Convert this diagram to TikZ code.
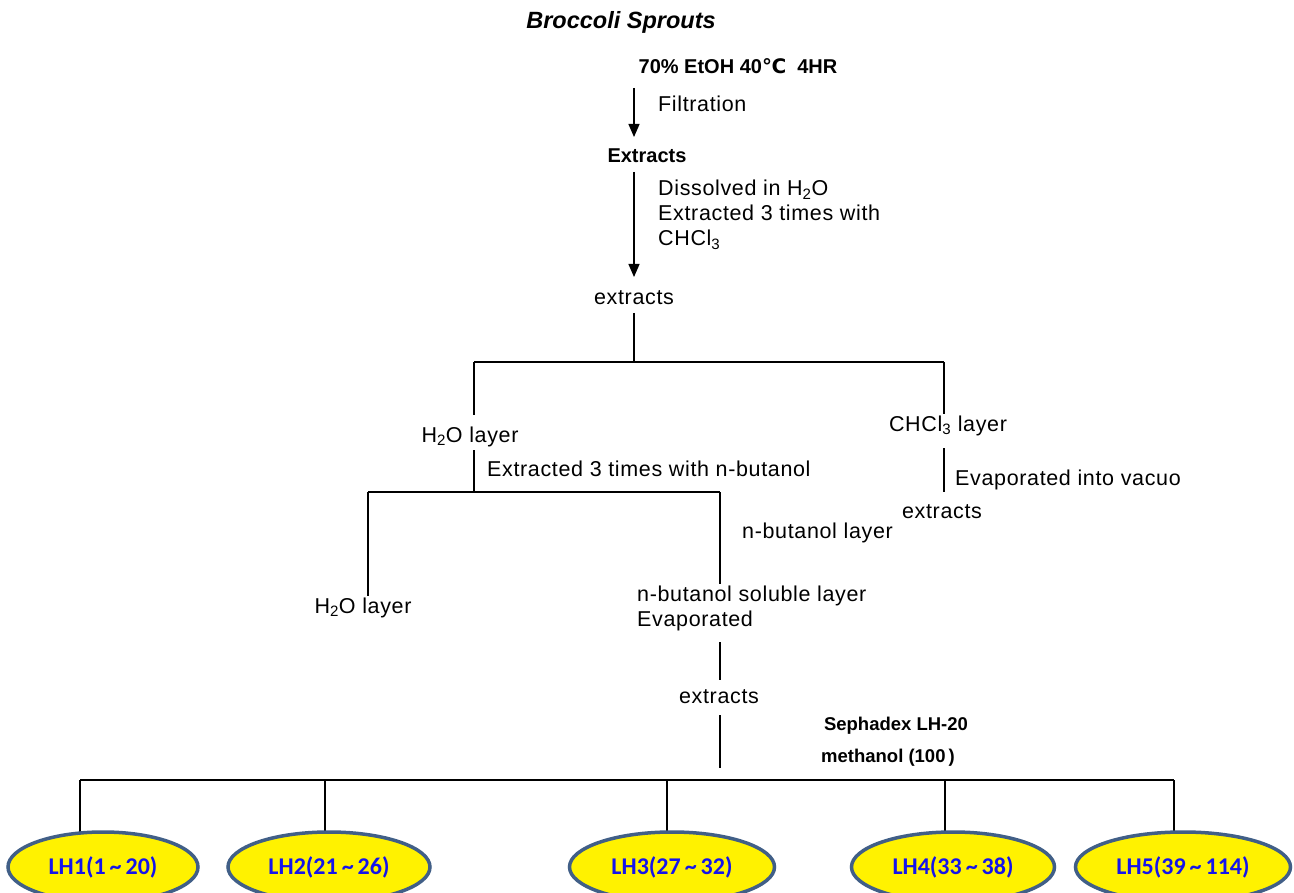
\documentclass[tikz,border=0pt]{standalone}
\usepackage{fontspec}
\setmainfont{Liberation Sans}
\newfontfamily\spaced[LetterSpace=3]{Liberation Sans}
\newfontfamily\dejavu{DejaVu Sans}
\newfontfamily\carl{Carlito}
\usetikzlibrary{arrows.meta,shapes.geometric}
\definecolor{ellborder}{RGB}{65,95,135}
\definecolor{elltext}{RGB}{20,20,235}
\tikzset{
  txt/.style={inner sep=2pt, font=\spaced\fontsize{21.5}{25}\selectfont},
  ltxt/.style={txt, anchor=west, align=left},
  btxt/.style={inner sep=2pt, font=\fontsize{20}{24}\selectfont\bfseries},
  conn/.style={line width=1.3pt, black},
  arr/.style={conn, -{Triangle[length=13pt,width=11pt]}},
  frac/.style={ellipse, draw=ellborder, line width=3.5pt, fill=yellow, minimum height=70pt, inner sep=0pt,
    font=\fontsize{24}{28}\selectfont\carl\bfseries, text=elltext}
}
\begin{document}
\begin{tikzpicture}[x=1pt,y=-1pt]
\useasboundingbox (0,0) rectangle (1294,893);
% top
\node[inner sep=2pt, font=\fontsize{23.5}{27}\selectfont\bfseries\itshape] (bs) at (621,22) {Broccoli Sprouts};
\node[btxt] (etoh) at (738,66) {70\% EtOH 40{\dejavu ℃}\ \ 4HR};
\coordinate (a1s) at (634,88);
\coordinate (a1e) at (634,137);
\draw[arr] (a1s) -- (a1e);
\node[ltxt] (filt) at (656,104) {Filtration};
\node[btxt] (ex1) at (647,156) {Extracts};
\coordinate (a2s) at (634,172);
\coordinate (a2e) at (634,277);
\draw[arr] (a2s) -- (a2e);
\node[ltxt, anchor=north west] (diss) at (656,178) {Dissolved in H\textsubscript{2}O\\Extracted 3 times with\\CHCl\textsubscript{3}};
\node[txt] (ex2) at (634,298) {extracts};
% first split
\coordinate (j0) at (634,313);
\coordinate (j1) at (634,362);
\coordinate (jL) at (474,362);
\coordinate (jR) at (944,362);
\draw[conn] (j0) -- (j1);
\draw[conn] (jL) -- (jR);
\node[txt] (h2o1) at (470,437) {H\textsubscript{2}O layer};
\node[txt] (chcl) at (948,426) {CHCl\textsubscript{3} layer};
\draw[conn] (jL) -- (jL |- 0,415);
\draw[conn] (jR) -- (chcl.north -| jR);
% H2O branch
\coordinate (j2) at (474,492);
\coordinate (j2L) at (368,492);
\coordinate (j2R) at (720,492);
\draw[conn] (474,450) -- (j2);
\node[ltxt] (extb) at (485,469) {Extracted 3 times with n-butanol};
\draw[conn] (j2L) -- (j2R);
\node[txt] (h2o2) at (363,608) {H\textsubscript{2}O layer};
\node[ltxt] (nbl) at (740,533) {n-butanol layer};
\node[ltxt, anchor=north west] (nbs) at (635,584) {n-butanol soluble layer\\Evaporated};
\draw[conn] (j2L) -- (j2L |- h2o2.north);
\draw[conn] (j2R) -- (j2R |- nbs.north);
% CHCl3 branch
\coordinate (c1) at (944,448);
\coordinate (c2) at (944,492);
\draw[conn] (c1) -- (c2);
\node[ltxt] (evap) at (953,480) {Evaporated into vacuo};
\node[txt] (ex3) at (942,512) {extracts};
% n-butanol to extracts
\coordinate (n1) at (720,642);
\coordinate (n2) at (720,680);
\draw[conn] (n1) -- (n2);
\node[txt] (ex4) at (719,697) {extracts};
\coordinate (n3s) at (720,715);
\coordinate (n3) at (720,768);
\draw[conn] (n3s) -- (n3);
\node[inner sep=2pt, font=\fontsize{18.5}{22}\selectfont\bfseries] (seph) at (896,726) {Sephadex LH-20};
\node[inner sep=2pt, font=\fontsize{18.5}{22}\selectfont\bfseries] (meth) at (888,758) {methanol (100\,)};
% bottom bus
\coordinate (bL) at (80,780);
\coordinate (bR) at (1174,780);
\draw[conn] (bL) -- (bR);
\coordinate (b2) at (325,780);
\coordinate (b3) at (667,780);
\coordinate (b4) at (945,780);
\draw[conn] (bL) -- (80,840);
\draw[conn] (b2) -- (325,840);
\draw[conn] (b3) -- (667,840);
\draw[conn] (b4) -- (945,840);
\draw[conn] (bR) -- (1174,840);
\node[frac, minimum width=190pt] (lh1) at (103,867) {LH1(1\,\textasciitilde\,20)};
\node[frac, minimum width=202pt] (lh2) at (329,867) {LH2(21\,\textasciitilde\,26)};
\node[frac, minimum width=205pt] (lh3) at (672,867) {LH3(27\,\textasciitilde\,32)};
\node[frac, minimum width=203pt] (lh4) at (953,867) {LH4(33\,\textasciitilde\,38)};
\node[frac, minimum width=215pt] (lh5) at (1183,867) {LH5(39\,\textasciitilde\,114)};
\end{tikzpicture}
\end{document}
